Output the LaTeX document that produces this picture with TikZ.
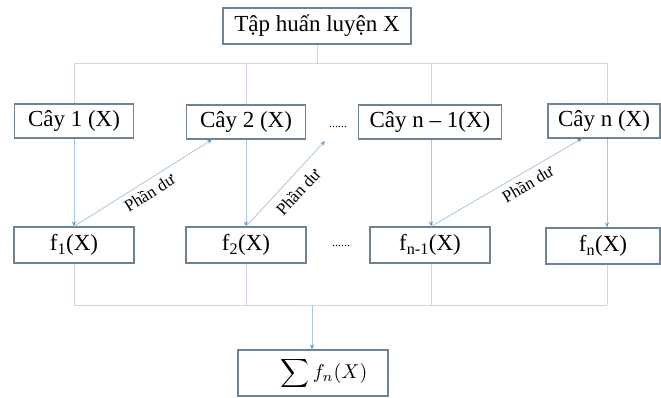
\documentclass[tikz,border=0pt]{standalone}
\usepackage{graphicx}
\usepackage{fontspec}
\setmainfont{Liberation Serif}
\usetikzlibrary{arrows.meta}
\definecolor{boxc}{HTML}{6F8296}
\definecolor{linec}{HTML}{A9C5E2}
\definecolor{treec}{HTML}{C9D7E6}
\definecolor{tipc}{HTML}{5B9BD5}
\begin{document}
\begin{tikzpicture}[x=1pt,y=-1pt,
 box/.style={draw=boxc,line width=1.1pt,inner sep=0pt,font=\fontsize{23}{26}\selectfont},
 conn/.style={draw=linec,line width=0.8pt},
 tree/.style={draw=treec,line width=0.9pt},
 arr/.style={conn,-{Stealth[length=5pt,width=4pt,color=tipc]}},
 lab/.style={font=\fontsize{17}{19}\selectfont,inner sep=0pt,sloped},
 dots/.style={font=\fontsize{12}{14}\selectfont,inner sep=0pt}
 ]
\useasboundingbox (0,0) rectangle (661,398);
% boxes
\node[box,minimum width=188pt,minimum height=36pt] (top) at (317,26) {Tập huấn luyện X};
\node[box,minimum width=119pt,minimum height=34pt] (c1) at (74,121) {Cây 1 (X)};
\node[box,minimum width=119pt,minimum height=34pt] (c2) at (246,122) {Cây 2 (X)};
\node[box,minimum width=143pt,minimum height=34pt] (c3) at (430,122) {Cây n – 1(X)};
\node[box,minimum width=112pt,minimum height=34pt] (c4) at (604,121) {Cây n (X)};
\node[box,minimum width=120pt,minimum height=36pt] (f1) at (74,245) {f\textsubscript{1}(X)};
\node[box,minimum width=120pt,minimum height=36pt] (f2) at (246,245) {f\textsubscript{2}(X)};
\node[box,minimum width=120pt,minimum height=36pt] (f3) at (430,245) {f\textsubscript{n-1}(X)};
\node[box,minimum width=114pt,minimum height=36pt] (f4) at (603,246) {f\textsubscript{n}(X)};
\node[box,minimum width=150pt,minimum height=46pt,font=\normalsize] (s) at (313,373) {\hspace*{22pt}\scalebox{2.0}{$\displaystyle\sum f_n(X)$}};
\node[dots] (d1) at (338,127) {......};
\node[dots] (d2) at (341,246) {......};
% tree at top
\coordinate (tj) at (317,63);
\coordinate (bj) at (312,305);
\draw[tree] (top.south) -- (tj);
\draw[tree] (c1.north |- tj) -- ([xshift=3pt]c4.north |- tj);
\draw[tree] (c1.north |- tj) -- (c1.north);
\draw[tree] (c2.north |- tj) -- (c2.north);
\draw[tree] ([xshift=1pt]c3.north |- tj) -- ([xshift=1pt]c3.north);
\draw[tree] ([xshift=3pt]c4.north |- tj) -- ([xshift=3pt]c4.north);
% vertical arrows
\draw[arr] (c1.south) -- (f1.north);
\draw[arr] (c2.south) -- (f2.north);
\draw[arr] ([xshift=1pt]c3.south) -- ([xshift=1pt]f3.north);
\draw[arr] ([xshift=3pt]c4.south) -- ([xshift=4pt]f4.north);
% residual arrows
\coordinate (r2) at (325,141);
\draw[arr] (f1.north) -- node[lab,pos=0.5,below=5pt] {Phần dư} ([xshift=-34pt]c2.south);
\draw[arr] (f2.north) -- node[lab,pos=0.52,below=8pt] {Phần dư} (r2);
\draw[arr] ([xshift=1pt]f3.north) -- node[lab,pos=0.6,below=5pt] {Phần dư} ([xshift=-22pt]c4.south);
% bottom collector
\draw[tree] (f1.south) -- (f1.south |- bj);
\draw[tree] (f2.south) -- (f2.south |- bj);
\draw[tree] ([xshift=1pt]f3.south) -- ([xshift=1pt]f3.south |- bj);
\draw[tree] ([xshift=4pt]f4.south) -- ([xshift=4pt]f4.south |- bj);
\draw[tree] (f1.south |- bj) -- ([xshift=4pt]f4.south |- bj);
\draw[arr] (bj) -- (s.north -| bj);
\end{tikzpicture}
\end{document}
